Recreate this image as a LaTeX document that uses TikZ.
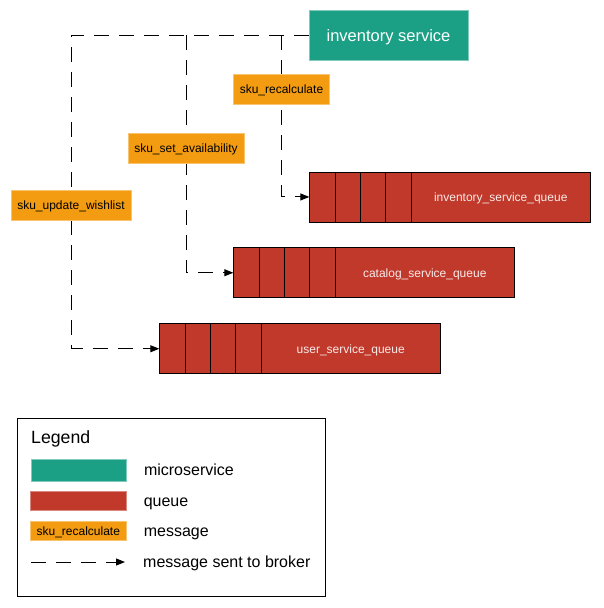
\documentclass[tikz,border=0pt]{standalone}
\usepackage{fontspec}
\setmainfont{Liberation Sans}
\usetikzlibrary{arrows.meta,positioning,backgrounds}

\definecolor{svcgreen}{RGB}{27,160,134}
\definecolor{queuered}{RGB}{192,57,43}
\definecolor{msgorange}{RGB}{243,156,18}

\tikzset{
  service/.style={fill=svcgreen, draw=svcgreen!55!white, line width=0.8pt, text=white,
    minimum width=159pt, minimum height=50pt, inner sep=0pt,
    text height=13pt, text depth=0pt,
    font=\fontsize{16.5}{19}\selectfont},
  message/.style={fill=msgorange, draw=msgorange!60!white, line width=0.6pt,
    minimum height=30pt, inner xsep=6.5pt, inner ysep=0pt,
    text height=9pt, text depth=0pt,
    font=\fontsize{12}{14}\selectfont},
  queue/.style={fill=queuered, draw=black, line width=0.9pt, text=white!90!queuered,
    minimum width=281pt, minimum height=50pt, inner sep=0pt, anchor=north west,
    text height=9pt, text depth=0pt,
    font=\fontsize{12}{14}\selectfont,
    path picture={
      \foreach \i in {1,...,4}
        \draw[black, line width=0.9pt]
          ([xshift=\i*25.3pt]path picture bounding box.north west) --
          ([xshift=\i*25.3pt]path picture bounding box.south west);
    }},
  flow/.style={line width=1pt, dash pattern=on 15pt off 10pt},
  sent/.style={flow, -{Triangle[length=9pt,width=7pt]}},
  legtext/.style={anchor=west, inner sep=0pt, text height=11.4pt, text depth=0pt,
    font=\fontsize{16}{19}\selectfont},
}

\newcommand{\qlabel}[1]{\hspace*{101pt}\makebox[180pt]{#1}}

\begin{document}
\begin{tikzpicture}[x=1pt,y=-1pt]
\useasboundingbox (0,0) rectangle (603,608);

\node[service] (svc) at (388.5,35) {inventory service};

\node[queue] (invq) at (309.3,171.5) {\qlabel{inventory\_service\_queue}};
\node[queue] (catq) at (233.3,247.3) {\qlabel{catalog\_service\_queue}};
\node[queue] (userq) at (159.3,323.3) {\qlabel{user\_service\_queue}};

\node[message] (recalc) at (281.5,89) {sku\_recalculate};
\node[message] (avail) at (186,148) {sku\_set\_availability};
\node[message] (wish) at (71,205) {sku\_update\_wishlist};

\begin{scope}[on background layer]
\draw[sent] (svc.west) -| (wish) |- (userq.west);
\draw[sent] (avail |- svc.west) |- (catq.west);
\draw[sent] (recalc |- svc.west) |- (invq.west);
\end{scope}

% legend
\node[draw, line width=1pt, anchor=north west, minimum width=308pt, minimum height=178pt,
  inner sep=0pt] (legend) at (17,418) {};
\node[legtext, text height=12.7pt, font=\fontsize{17.7}{21}\selectfont] (legtitle) at (31,436.7) {Legend};

\node[service, anchor=west, minimum width=95pt, minimum height=22pt] (legsvc) at (31,470) {};
\node[legtext, right=17pt of legsvc] (legsvctxt) {microservice};

\node[fill=queuered, draw=queuered!60!white, line width=0.6pt, anchor=west,
  minimum width=96pt, minimum height=19pt, inner sep=0pt] (legq) at (30,501) {};
\node[legtext, right=17pt of legq] (legqtxt) {queue};

\node[message, anchor=west, minimum width=96pt, minimum height=19pt, inner xsep=0pt] (legmsg) at (30,531) {sku\_recalculate};
\node[legtext, right=17pt of legmsg] (legmsgtxt) {message};

\coordinate (legA) at (31,562);
\coordinate (legB) at (125,562);
\draw[sent] (legA) -- (legB);
\node[legtext] (legsenttxt) at (143,562) {message sent to broker};
\end{tikzpicture}
\end{document}
